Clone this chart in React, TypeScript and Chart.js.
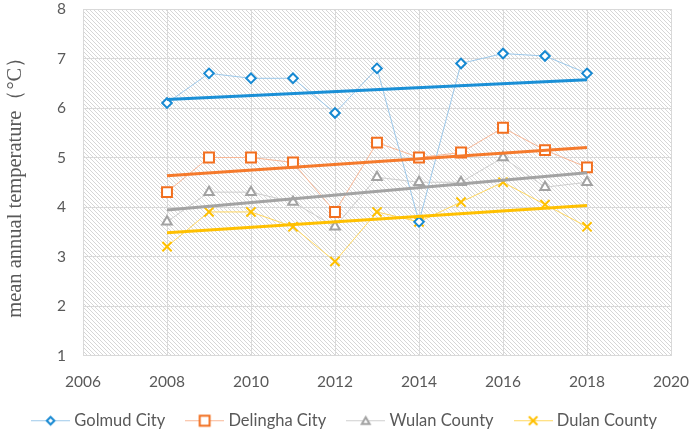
import { useEffect, useRef } from 'react';
import { Chart, registerables, type ChartConfiguration, type Plugin } from 'chart.js';

Chart.register(...registerables);

const years = [2008, 2009, 2010, 2011, 2012, 2013, 2014, 2015, 2016, 2017, 2018];
const golmud = [6.1, 6.7, 6.6, 6.6, 5.9, 6.8, 3.7, 6.9, 7.1, 7.05, 6.7];
const delingha = [4.3, 5.0, 5.0, 4.9, 3.9, 5.3, 5.0, 5.1, 5.6, 5.15, 4.8];
const wulan = [3.7, 4.3, 4.3, 4.1, 3.6, 4.6, 4.5, 4.5, 5.0, 4.4, 4.5];
const dulan = [3.2, 3.9, 3.9, 3.6, 2.9, 3.9, 3.7, 4.1, 4.5, 4.05, 3.6];

// trend line end points (2008, 2018)
const trendYears = [2008, 2018];
const golmudTrend = [6.17, 6.57];
const delinghaTrend = [4.63, 5.2];
const wulanTrend = [3.94, 4.69];
const dulanTrend = [3.48, 4.03];

const xTicks = [2006, 2008, 2010, 2012, 2014, 2016, 2018, 2020];
const yTicks = [1, 2, 3, 4, 5, 6, 7, 8];

const TEXT = '#595959';
const GRID = '#d9d9d9';

type Series = {
  label: string;
  values: number[];
  trend: number[];
  marker: string; // marker stroke
  line: string; // thin connecting line
  trendColor: string;
  pointStyle: 'rectRot' | 'rect' | 'triangle' | 'crossRot';
  radius: number;
  legendRadius: number;
};

const SERIES: Series[] = [
  { label: 'Golmud City', values: golmud, trend: golmudTrend, marker: '#1789d2', line: '#9cc8ea', trendColor: '#1a8fd6', pointStyle: 'rectRot', radius: 4.8, legendRadius: 3.8 },
  { label: 'Delingha City', values: delingha, trend: delinghaTrend, marker: '#f26f1f', line: '#f8b796', trendColor: '#f57a2c', pointStyle: 'rect', radius: 7, legendRadius: 7 },
  { label: 'Wulan County', values: wulan, trend: wulanTrend, marker: '#a2a2a2', line: '#cfcfcf', trendColor: '#a3a3a3', pointStyle: 'triangle', radius: 5.5, legendRadius: 4.5 },
  { label: 'Dulan County', values: dulan, trend: dulanTrend, marker: '#ffc000', line: '#ffd75e', trendColor: '#ffc000', pointStyle: 'crossRot', radius: 6.5, legendRadius: 6 },
];

const SYMBOL_W = 39; // legend symbol image width
const BOX_W = 31; // legend box width (image overhangs it on both sides)

/** Small canvas with a line through a marker, used as legend symbol. */
function legendSymbol(s: Series): HTMLCanvasElement {
  const c = document.createElement('canvas');
  c.width = SYMBOL_W;
  c.height = 16;
  const cx = SYMBOL_W / 2;
  const ctx = c.getContext('2d')!;
  ctx.strokeStyle = s.line;
  ctx.lineWidth = 1;
  ctx.beginPath();
  ctx.moveTo(0, 8.5);
  ctx.lineTo(SYMBOL_W, 8.5);
  ctx.stroke();
  const r = s.legendRadius;
  ctx.strokeStyle = s.marker;
  ctx.fillStyle = '#fff';
  ctx.lineWidth = 2;
  ctx.beginPath();
  if (s.pointStyle === 'rectRot') {
    ctx.moveTo(cx, 8.5 - r); ctx.lineTo(cx + r, 8.5); ctx.lineTo(cx, 8.5 + r); ctx.lineTo(cx - r, 8.5); ctx.closePath();
    ctx.fill(); ctx.stroke();
  } else if (s.pointStyle === 'rect') {
    const h = r * Math.SQRT1_2;
    ctx.rect(cx - h, 8.5 - h, 2 * h, 2 * h);
    ctx.fill(); ctx.stroke();
  } else if (s.pointStyle === 'triangle') {
    const w = Math.cos(Math.PI / 6) * r;
    ctx.moveTo(cx, 9.5 - r); ctx.lineTo(cx + w, 9.5 + r / 2); ctx.lineTo(cx - w, 9.5 + r / 2); ctx.closePath();
    ctx.fill(); ctx.stroke();
  } else {
    const h = r * Math.SQRT1_2;
    ctx.moveTo(cx - h, 8.5 - h); ctx.lineTo(cx + h, 8.5 + h);
    ctx.moveTo(cx + h, 8.5 - h); ctx.lineTo(cx - h, 8.5 + h);
    ctx.stroke();
  }
  return c;
}

/** Diagonal hatching behind the plot area. */
const hatchPlugin: Plugin = {
  id: 'hatch',
  beforeDraw(chart) {
    const { ctx, chartArea: a } = chart;
    const tile = document.createElement('canvas');
    tile.width = 4;
    tile.height = 4;
    const t = tile.getContext('2d')!;
    t.fillStyle = '#ffffff';
    t.fillRect(0, 0, 4, 4);
    t.strokeStyle = '#d6d6d6';
    t.lineWidth = 1;
    t.beginPath();
    t.moveTo(-1, -1); t.lineTo(5, 5);
    t.moveTo(-1, 3); t.lineTo(1, 5);
    t.moveTo(3, -1); t.lineTo(5, 1);
    t.stroke();
    const pattern = ctx.createPattern(tile, 'repeat');
    if (!pattern) return;
    ctx.save();
    ctx.fillStyle = pattern;
    ctx.fillRect(a.left, a.top, a.right - a.left, a.bottom - a.top);
    ctx.restore();
  },
};

export default function App() {
  const canvasRef = useRef<HTMLCanvasElement>(null);

  useEffect(() => {
    document.body.style.margin = '0';
    if (!canvasRef.current) return;

    const dataSets: any[] = [];
    SERIES.forEach((s) => {
      dataSets.push({
        label: s.label,
        data: years.map((x, i) => ({ x, y: s.values[i] })),
        borderColor: s.line,
        borderWidth: 1,
        pointStyle: s.pointStyle,
        pointRadius: s.radius,
        pointBorderColor: s.marker,
        pointBackgroundColor: '#ffffff',
        pointBorderWidth: 2,
        order: 2,
        symbol: legendSymbol(s),
      });
    });
    SERIES.forEach((s) => {
      dataSets.push({
        label: s.label + ' trend',
        data: trendYears.map((x, i) => ({ x, y: s.trend[i] })),
        borderColor: s.trendColor,
        borderWidth: 3,
        pointRadius: 0,
        order: 1,
        isTrend: true,
      });
    });

    const config: ChartConfiguration<'line'> = {
      type: 'line',
      data: { datasets: dataSets },
      options: {
        animation: false,
        responsive: true,
        maintainAspectRatio: false,
        layout: { padding: { top: 4.5, right: 0, left: 0, bottom: -9.5 } },
        plugins: {
          tooltip: { enabled: false },
          legend: {
            position: 'bottom',
            labels: {
              usePointStyle: true,
              pointStyleWidth: BOX_W,
              boxHeight: 16,
              padding: 24,
              color: TEXT,
              font: { family: 'Lato', size: 16.5 },
              filter: (item, data) => !(data.datasets[item.datasetIndex!] as any).isTrend,
              generateLabels: (chart) =>
                chart.data.datasets.map((ds: any, i) => ({
                  text: ds.label,
                  datasetIndex: i,
                  pointStyle: ds.symbol,
                  fillStyle: '#fff',
                  strokeStyle: '#fff',
                  lineWidth: 0,
                  fontColor: TEXT,
                  hidden: false,
                })),
            },
          },
        },
        scales: {
          x: {
            type: 'linear',
            min: 2006,
            max: 2020,
            afterBuildTicks: (axis) => { axis.ticks = xTicks.map((v) => ({ value: v })); },
            grid: { color: GRID, drawTicks: false },
            border: { display: true, color: GRID },
            ticks: { color: TEXT, padding: 17, font: { family: 'Lato', size: 15.5 }, callback: (v) => String(v) },
            afterFit: (axis: any) => { axis.height = 32.5; axis.paddingLeft = 0; axis.paddingRight = 21; },
          },
          y: {
            min: 1,
            max: 8,
            afterBuildTicks: (axis) => { axis.ticks = yTicks.map((v) => ({ value: v })); },
            grid: { color: GRID, drawTicks: false },
            border: { display: true, color: GRID },
            ticks: { color: TEXT, padding: 17, font: { family: 'Lato', size: 15.5 } },
            title: {
              display: true,
              text: 'mean annual temperature（°C）',
              color: TEXT,
              font: { family: 'Liberation Serif', size: 20.5 },
              padding: { top: 3, bottom: 0 },
            },
            afterFit: (axis: any) => { axis.width = 83; axis.paddingTop = 0; axis.paddingBottom = 0; },
          },
        },
      },
      plugins: [hatchPlugin],
    };

    const chart = new Chart(canvasRef.current, config);
    return () => { chart.destroy(); };
  }, []);

  return (
    <div style={{ position: 'relative', width: 692, height: 429 }}>
      <canvas ref={canvasRef} role="img" aria-label="Mean annual temperature 2008-2018" />
    </div>
  );
}
